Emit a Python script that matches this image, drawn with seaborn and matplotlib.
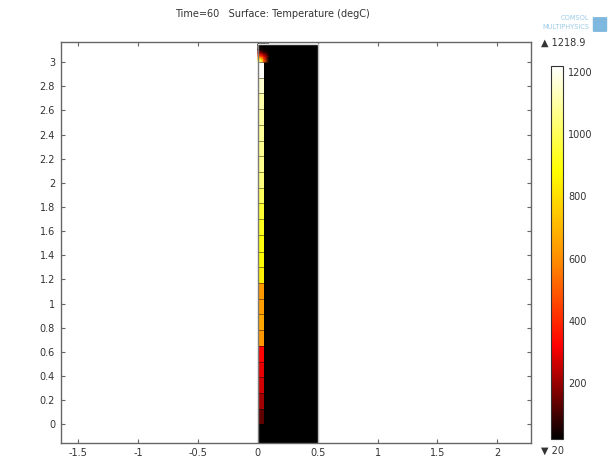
import numpy as np
import matplotlib
matplotlib.use("Agg")
import matplotlib.pyplot as plt
import seaborn as sns
from matplotlib.colors import LinearSegmentedColormap, Normalize
from matplotlib.cm import ScalarMappable
from matplotlib.patches import FancyBboxPatch

sns.set_theme(style="white")
plt.rcParams["font.family"] = ["DejaVu Sans"]
plt.rcParams["axes.unicode_minus"] = False

# temperature range of the solution (degC)
t_min = 20.0
t_max = 1218.9

# heated strip: element boundaries along y and element temperatures (degC)
strip_edges = [0.0, 0.13, 0.26, 0.39, 0.52, 0.65, 0.78, 0.91, 1.04, 1.17, 1.30,
               1.43, 1.57, 1.70, 1.83, 1.96, 2.09, 2.22, 2.35, 2.48, 2.61, 2.74,
               2.87, 3.0]
strip_temp = [130, 210, 265, 295, 320, 620, 660, 640, 625, 840, 880, 900,
              920, 950, 1000, 1050, 1065, 1072, 1080, 1088, 1105, 1150, 1212]
strip_width = 0.05

# hot tip above the strip (nodal temperatures, degC)
tip_x = [0.0, 0.03, 0.05, 0.09]
tip_y = [3.0, 3.025, 3.05, 3.075, 3.1, 3.15]
tip_temp = [[1150, 1050, 500, 20],
            [900, 800, 450, 20],
            [500, 420, 300, 60],
            [250, 200, 120, 30],
            [60, 50, 30, 20],
            [20, 20, 20, 20]]

# surrounding block
block_x = [0.0, 0.5]
block_y = [-0.3, 3.15]

x_ticks = [-1.5, -1, -0.5, 0, 0.5, 1, 1.5, 2]
y_ticks = [0, 0.2, 0.4, 0.6, 0.8, 1, 1.2, 1.4, 1.6, 1.8, 2, 2.2, 2.4, 2.6, 2.8, 3]
cbar_ticks = [200, 400, 600, 800, 1000, 1200]

thermal = LinearSegmentedColormap.from_list(
    "thermal",
    [(0.0, (0, 0, 0)), (0.25, (1, 0, 0)), (0.48, (1, 0.55, 0)),
     (0.72, (1, 1, 0)), (1.0, (1, 1, 1))])
norm = Normalize(t_min, t_max)

text_col = "#333333"
spine_col = "#666666"

fig = plt.figure(figsize=(6.11, 4.59), dpi=100)
ax = fig.add_axes([0.0993, 0.0355, 0.7697, 0.874])

ax.pcolormesh(block_x, block_y, [[t_min]], cmap=thermal, norm=norm)
ax.pcolormesh([0.0, strip_width], strip_edges,
              np.array(strip_temp, dtype=float)[:, None],
              cmap=thermal, norm=norm)
ax.pcolormesh(tip_x, tip_y, np.array(tip_temp, dtype=float),
              shading="gouraud", cmap=thermal, norm=norm)

# element edges inside the strip
ax.hlines(strip_edges[1:], 0.0, strip_width, colors="#000000",
          linewidth=0.7, alpha=0.45)
# geometry boundaries
ax.plot([0.0, 0.0], [block_y[0], block_y[1]], color="#7a7a7a", lw=1.0)
ax.plot([0.5, 0.5], [block_y[0], block_y[1]], color="#bbbbbb", lw=1.0)
ax.plot([0.0, 0.5], [block_y[1], block_y[1]], color="#dddddd", lw=1.0)

ax.set_xlim(-1.648, 2.281)
ax.set_ylim(-0.152, 3.17)
ax.set_xticks(x_ticks)
ax.set_xticklabels([f"{v:g}" for v in x_ticks])
ax.set_yticks(y_ticks)
ax.set_yticklabels([f"{v:g}" for v in y_ticks])
ax.tick_params(direction="in", length=3, width=0.8, top=True, right=True,
               bottom=True, left=True, color=spine_col, labelcolor=text_col,
               labelsize=7, pad=4)
for s in ax.spines.values():
    s.set_color(spine_col)
    s.set_linewidth(1.0)

# colour legend
cax = fig.add_axes([0.9018, 0.0429, 0.0191, 0.814])
cb = fig.colorbar(ScalarMappable(norm=norm, cmap=thermal), cax=cax,
                  ticks=cbar_ticks)
cb.outline.set_edgecolor("#333333")
cb.outline.set_linewidth(0.8)
cax.tick_params(direction="in", length=2.5, width=0.8, left=True, right=True,
                color="#333333", labelcolor=text_col, labelsize=7, pad=4)
cax.set_yticklabels([str(v) for v in cbar_ticks])

fig.text(541 / 611, 1 - 43 / 459, "\u25b2 1218.9", fontsize=7, color=text_col,
         ha="left", va="center")
fig.text(541 / 611, 1 - 451 / 459, "\u25bc 20", fontsize=7, color=text_col,
         ha="left", va="center")

fig.text(272.5 / 611, 1 - 14 / 459,
         "Time=60   Surface: Temperature (degC)",
         fontsize=7, color=text_col, ha="center", va="center")

# product mark
logo_col = "#9ccbe8"
fig.text(589 / 611, 1 - 18 / 459, "COMSOL", fontsize=4.8, color=logo_col,
         ha="right", va="center")
fig.text(589 / 611, 1 - 27 / 459, "MULTIPHYSICS", fontsize=4.8,
         color=logo_col, ha="right", va="center")
fig.patches.append(FancyBboxPatch((594 / 611, 1 - 31 / 459), 12 / 611,
                                  13 / 459, boxstyle="round,pad=0.002",
                                  transform=fig.transFigure, facecolor="#7fb8df",
                                  edgecolor="none"))

fig.savefig("out.png", dpi=100)
